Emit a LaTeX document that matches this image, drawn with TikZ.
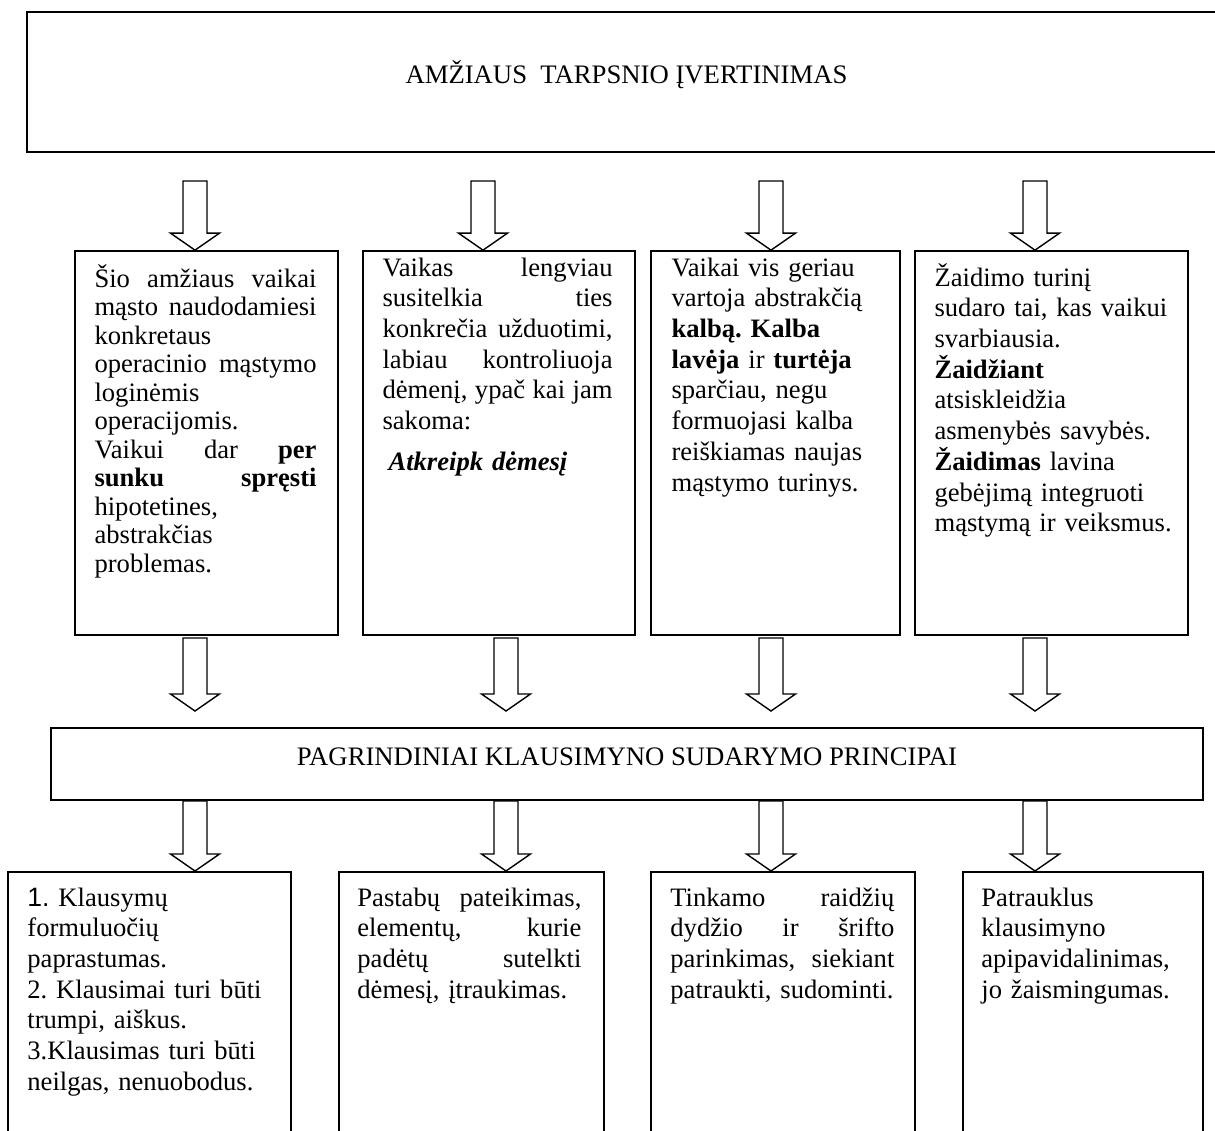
\documentclass[tikz,border=0pt]{standalone}
\usepackage{fontspec}
\setmainfont{Liberation Serif}
\newfontfamily\arialfont{Liberation Sans}
\usetikzlibrary{calc,fit}
\hyphenpenalty=10000
\exhyphenpenalty=10000
\frenchspacing
% a line set flush to both margins of its box
\newcommand\spreadline[1]{\leavevmode\hbox to\linewidth{#1}}

\begin{document}
\begin{tikzpicture}[x=0.5pt,y=-0.5pt,
  outerbox/.style={draw, line width=1pt, inner sep=0pt},
  cellbox/.style={draw, line width=0.85pt, inner sep=0pt},
  bodytext/.style={anchor=base west, inner sep=0pt, align=left,
    font=\fontsize{13.3}{15.35}\selectfont},
  tightbody/.style={bodytext, font=\fontsize{13.3}{14.25}\selectfont},
  headtext/.style={anchor=base, inner sep=0pt,
    font=\fontsize{13.35}{15.35}\selectfont},
  blockarrow/.style={draw, line width=0.7pt, line join=miter,
    to path={let \p1=(\tikztostart), \p2=(\tikztotarget) in
      (\x1-6pt,\y1) -- (\x1-6pt,\y2+8.5pt) -- (\x1-12.25pt,\y2+8.5pt) -- (\x1,\y2)
      -- (\x1+12.25pt,\y2+8.5pt) -- (\x1+6pt,\y2+8.5pt) -- (\x1+6pt,\y1) -- cycle}}
]
\useasboundingbox (0,0) rectangle (1215,1130);
\fill[white] (0,0) rectangle (1215,1130);
\begin{scope}
\clip (0,0) rectangle (1215,1130);

% heading box
\node[outerbox, fit={(27,12) (1226,152)}] (top) {};
\node[headtext] (toptext) at (626.5,83) {AMŽIAUS\ \ TARPSNIO ĮVERTINIMAS};

% four description boxes
\node[cellbox, fit={(75,251) (338,635)}] (m1) {};
\node[cellbox, fit={(363,251) (635,635)}] (m2) {};
\node[cellbox, fit={(651,251) (900,635)}] (m3) {};
\node[cellbox, fit={(915,251) (1188,635)}] (m4) {};

\node[tightbody, text width=111pt] (m1t) at ($(m1.north west)+(20,37)$) {%
\spreadline{Šio \hfill amžiaus \hfill vaikai}\\
\spreadline{mąsto \hfill naudodamiesi}\\
konkretaus\\
\spreadline{operacinio \hfill mąstymo}\\
loginėmis\\
operacijomis.\\
\spreadline{Vaikui \hfill dar \hfill \textbf{per}}\\
\spreadline{\textbf{sunku} \hfill \textbf{spręsti}}\\
hipotetines,\\
abstrakčias\\
problemas.};

\node[bodytext, text width=115pt] (m2t) at ($(m2.north west)+(20,26)$) {%
\spreadline{Vaikas \hfill lengviau}\\
\spreadline{susitelkia \hfill ties}\\
\spreadline{konkrečia \hfill užduotimi,}\\
\spreadline{labiau \hfill kontroliuoja}\\
\spreadline{\spaceskip=0.18em plus 0.1em dėmenį, ypač kai jam}\\
sakoma:\\[5.2pt]
\hspace*{3pt}\textbf{\textit{Atkreipk dėmesį}}};

\node[bodytext, text width=115pt] (m3t) at ($(m3.north west)+(21,26)$) {%
Vaikai vis geriau\\
vartoja abstrakčią\\
\textbf{kalbą. Kalba}\\
\textbf{lavėja} ir \textbf{turtėja}\\
sparčiau, negu\\
formuojasi kalba\\
reiškiamas naujas\\
mąstymo turinys.};

\node[bodytext, text width=125pt] (m4t) at ($(m4.north west)+(20,36)$) {%
Žaidimo turinį\\
sudaro tai, kas vaikui\\
svarbiausia.\\
\textbf{Žaidžiant}\\
atsiskleidžia\\
asmenybės savybės.\\
\textbf{Žaidimas} lavina\\
gebėjimą integruoti\\
mąstymą ir veiksmus.};

% principles box
\node[outerbox, fit={(51,728) (1203,800)}] (mid) {};
\node[headtext] (midtext) at (627,765) {PAGRINDINIAI KLAUSIMYNO SUDARYMO PRINCIPAI};

% four principle boxes, running off the lower edge
\node[outerbox, fit={(8,872) (291,1160)}] (b1) {};
\node[outerbox, fit={(339,872) (604,1160)}] (b2) {};
\node[outerbox, fit={(651,872) (915,1160)}] (b3) {};
\node[outerbox, fit={(963,872) (1203,1160)}] (b4) {};

\node[bodytext, text width=130pt] (b1t) at ($(b1.north west)+(20,35)$) {%
{\arialfont 1.} Klausymų\\
formuluočių\\
paprastumas.\\
2. Klausimai turi būti\\
trumpi, aiškus.\\
3.Klausimas turi būti\\
neilgas, nenuobodus.};

\node[bodytext, text width=112pt] (b2t) at ($(b2.north west)+(19,35)$) {%
\spreadline{Pastabų \hfill pateikimas,}\\
\spreadline{elementų, \hfill kurie}\\
\spreadline{padėtų \hfill sutelkti}\\
dėmesį, įtraukimas.};

\node[bodytext, text width=112pt] (b3t) at ($(b3.north west)+(20,35)$) {%
\spreadline{Tinkamo \hfill raidžių}\\
\spreadline{dydžio \hfill ir \hfill šrifto}\\
\spreadline{parinkimas, \hfill siekiant}\\
patraukti, sudominti.};

\node[bodytext, text width=110pt] (b4t) at ($(b4.north west)+(19,35)$) {%
Patrauklus\\
klausimyno\\
apipavidalinimas,\\
jo žaismingumas.};

% arrows from the heading into the description boxes
\coordinate (s1) at (195,181);
\coordinate (s2) at (483,181);
\coordinate (s3) at (771,181);
\coordinate (s4) at (1035,181);
\draw[blockarrow] (s1) to (s1 |- m1.north);
\draw[blockarrow] (s2) to (s2 |- m2.north);
\draw[blockarrow] (s3) to (s3 |- m3.north);
\draw[blockarrow] (s4) to (s4 |- m4.north);

% arrows from the description boxes towards the principles box
\coordinate (u1) at (195,638);
\coordinate (u2) at (506,638);
\coordinate (u3) at (771,638);
\coordinate (u4) at (1035,638);
\coordinate (v1) at (195,711);
\coordinate (v2) at (506,711);
\coordinate (v3) at (771,711);
\coordinate (v4) at (1035,711);
\draw[blockarrow] (u1) to (v1);
\draw[blockarrow] (u2) to (v2);
\draw[blockarrow] (u3) to (v3);
\draw[blockarrow] (u4) to (v4);

% arrows from the principles box into the principle boxes
\draw[blockarrow] (u1 |- mid.south) to (u1 |- b1.north);
\draw[blockarrow] (u2 |- mid.south) to (u2 |- b2.north);
\draw[blockarrow] (u3 |- mid.south) to (u3 |- b3.north);
\draw[blockarrow] (u4 |- mid.south) to (u4 |- b4.north);
\end{scope}
\end{tikzpicture}
\end{document}
